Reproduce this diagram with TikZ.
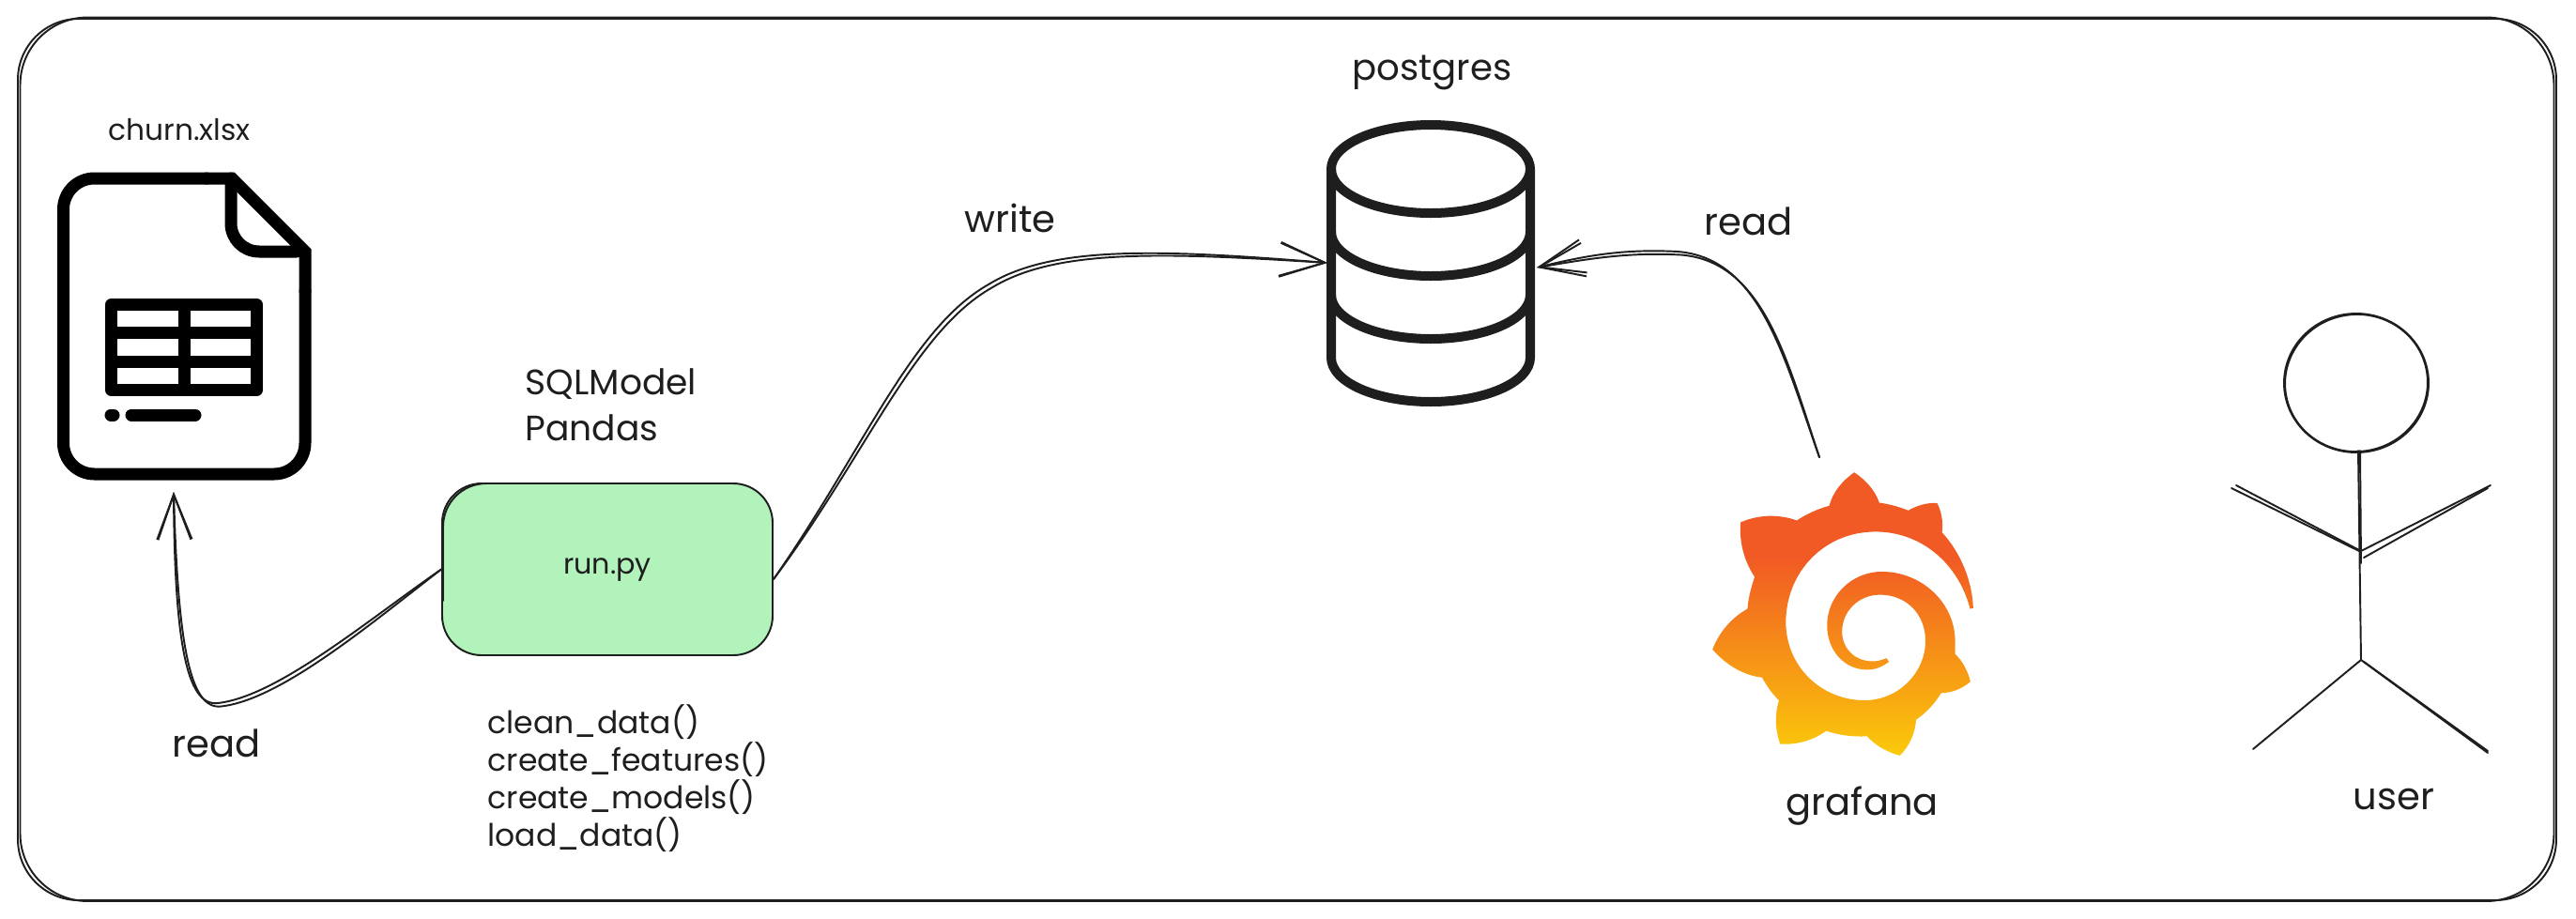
\documentclass[tikz,border=0pt]{standalone}
\usepackage{fontspec}
\setmainfont{Poppins}
\usetikzlibrary{arrows.meta}
\definecolor{inkcol}{HTML}{1E1E1E}
\definecolor{runcol}{HTML}{B2F2BB}
\definecolor{logotop}{HTML}{F15A24}
\definecolor{logobot}{HTML}{FBCA0A}
\pgfdeclareverticalshading{logoshade}{100bp}{color(0bp)=(logobot); color(25bp)=(logobot); color(60bp)=(logotop); color(100bp)=(logotop)}
\tikzset{
  sketch/.style = {draw = inkcol, line width = 0.55pt, line cap = round},
  flow/.style = {sketch, -{Straight Barb[length = 0.48cm, width = 0.36cm]}},
  iconline/.style = {draw = inkcol, line width = 0.1cm, line cap = round, line join = round},
  fileline/.style = {draw = black, line width = 0.13cm, line cap = round, line join = round},
  lbl/.style = {text = inkcol, inner sep = 0pt, anchor = base west, font = \fontsize{11.4}{14}\selectfont},
  smalllbl/.style = {lbl, font = \fontsize{8.9}{11}\selectfont},
  runbox/.style = {fill = runcol, draw = inkcol, line width = 0.55pt, rounded corners = 0.42cm,
    minimum width = 3.52cm, minimum height = 1.83cm, inner sep = 0pt, text = inkcol,
    font = \fontsize{8.6}{10}\selectfont}
}
\begin{document}
\begin{tikzpicture}[x = 1cm, y = -1cm]
        \useasboundingbox (0,0) rectangle (27.44,9.78);
        \fill [white] (0,0) rectangle (27.44,9.78);

        % outer frame
        \draw [sketch, rounded corners = 0.65cm] (0.19,0.2) rectangle (27.23,9.59);
        \draw [sketch, rounded corners = 0.72cm] (0.215,0.185) rectangle (27.205,9.6);

        % spreadsheet file
        \draw [fileline, rounded corners = 0.33cm] (2.2,1.9) -- (0.675,1.9) -- (0.675,5.05)
            -- (3.25,5.05) -- (3.25,3.1);
        \draw [fileline, line join = miter] (2.2,1.9) -- (2.47,1.9) -- (3.25,2.68) -- (3.25,3.1);
        \draw [fileline, rounded corners = 0.3cm] (2.46,1.9) -- (2.46,2.68) -- (3.16,2.68);
        \draw [fileline] (1.185,3.245) rectangle (2.735,4.155);
        \draw [fileline] (1.185,3.54) -- (2.735,3.54);
        \draw [fileline] (1.185,3.85) -- (2.735,3.85);
        \draw [fileline] (1.96,3.245) -- (1.96,4.155);
        \draw [fileline] (1.18,4.42) -- (1.21,4.42);
        \draw [fileline] (1.4,4.42) -- (2.08,4.42);

        % database
        \draw [iconline] (15.24,1.8) ellipse (1.06 and 0.47);
        \draw [iconline] (14.18,1.8) -- (14.18,3.81) arc (180:0:1.06 and 0.47) -- (16.3,1.8);
        \draw [iconline] (14.18,2.47) arc (180:0:1.06 and 0.47);
        \draw [iconline] (14.18,3.14) arc (180:0:1.06 and 0.47);

        % grafana logo
        \begin{scope}[shift = {(17.5,4.5)}, x = 0.003333cm, y = -0.003333cm]
            \shade [shading = logoshade]
            (677,160) .. controls (715,185) and (745,220) .. (757,257)
            .. controls (790,262) and (820,270) .. (850,282)
            .. controls (880,265) and (910,257) .. (942,258)
            .. controls (957,285) and (962,320) .. (958,352)
            .. controls (1020,420) and (1055,510) .. (1058,595)
            -- (1048,597)
            .. controls (1010,450) and (890,350) .. (745,350)
            .. controls (580,350) and (458,480) .. (458,640)
            .. controls (458,780) and (570,890) .. (710,890)
            .. controls (820,890) and (905,800) .. (905,700)
            .. controls (905,610) and (840,552) .. (760,552)
            .. controls (690,552) and (638,605) .. (638,670)
            .. controls (638,725) and (680,765) .. (735,765)
            .. controls (750,765) and (765,762) .. (780,755)
            -- (788,767)
            .. controls (765,783) and (745,792) .. (718,792)
            .. controls (645,792) and (590,730) .. (590,650)
            .. controls (590,555) and (670,478) .. (765,478)
            .. controls (895,478) and (1000,580) .. (1000,700)
            -- (1000,742)
            .. controls (1025,765) and (1042,800) .. (1049,830)
            .. controls (1020,855) and (990,865) .. (955,867)
            .. controls (935,900) and (908,930) .. (875,952)
            .. controls (872,995) and (855,1035) .. (823,1067)
            .. controls (780,1055) and (745,1035) .. (718,1005)
            .. controls (675,1008) and (630,1002) .. (587,988)
            .. controls (545,1018) and (495,1033) .. (440,1030)
            .. controls (423,985) and (422,935) .. (436,890)
            .. controls (415,870) and (397,845) .. (382,817)
            .. controls (320,810) and (265,775) .. (223,727)
            .. controls (245,670) and (285,625) .. (335,597)
            .. controls (338,560) and (347,528) .. (358,495)
            .. controls (325,445) and (308,385) .. (313,320)
            .. controls (370,295) and (435,293) .. (493,314)
            .. controls (525,293) and (560,277) .. (597,267)
            .. controls (608,225) and (635,190) .. (677,160) -- cycle;
        \end{scope}

        % user
        \draw [sketch] (25.1,4.08) ellipse (0.77 and 0.74);
        \draw [sketch, rotate around = {8:(25.1,4.08)}] (25.1,4.08) ellipse (0.76 and 0.73);
        \draw [sketch] (25.12,4.8) -- (25.15,7.03);
        \draw [sketch] (25.14,4.8) -- (25.15,6);
        \draw [sketch] (23.77,5.2) -- (25.13,5.87);
        \draw [sketch] (23.82,5.17) -- (25.13,5.86);
        \draw [sketch] (26.53,5.17) -- (25.15,5.87);
        \draw [sketch] (26.5,5.2) -- (25.18,5.94);
        \draw [sketch] (24,7.98) -- (25.15,7.03);
        \draw [sketch] (26.5,8.02) -- (25.15,7.03);
        \draw [sketch] (26.5,8) -- (25.18,7.05);

        % nodes
        \node [runbox] (runfile) at (6.47,6.065) {run.py};
        \draw [sketch, rounded corners = 0.46cm] (4.72,6.4) -- (4.72,5.15) -- (6.6,5.15);
        \coordinate (filetip) at (1.85,5.24);
        \coordinate (dbleft) at (14.14,2.8);
        \coordinate (dbright) at (16.37,2.85);
        \coordinate (logotip) at (19.38,4.87);
        \coordinate (runout) at (8.24,6.17);

        \node [smalllbl] (filename) at (1.15,1.49) {churn.xlsx};
        \node [lbl, font = \fontsize{10.7}{14}\selectfont, align = left, anchor = north west] (tools) at (5.59,3.92) {SQLModel\\Pandas};
        \node [lbl, font = \fontsize{9.4}{11.4}\selectfont, align = left, anchor = north west] (funcs) at (5.19,7.5)
            {clean\_data()\\create\_features()\\create\_models()\\load\_data()};
        \node [lbl] (readleft) at (1.83,8.06) {read};
        \node [lbl] (writetop) at (10.27,2.47) {write};
        \node [lbl] (readright) at (18.15,2.5) {read};
        \node [lbl, font = \fontsize{11}{14}\selectfont] (dbname) at (14.4,0.85) {postgres};
        \node [lbl] (logoname) at (19.02,8.68) {grafana};
        \node [lbl] (username) at (25.06,8.62) {user};

        % connectors
        \foreach \off in {0,0.035} {
            \draw [flow, shift = {(\off,\off)}] (runfile.west) .. controls (3.9,6.62) and (2.95,7.42) .. (2.32,7.49)
                .. controls (1.98,7.53) and (1.86,6.8) .. (filetip);
            \draw [flow, shift = {(\off,\off)}] (runout) .. controls (9.2,4.8) and (9.7,3.5) .. (10.53,3.03)
                .. controls (11.2,2.62) and (12.3,2.65) .. (dbleft);
            \draw [flow, shift = {(\off,\off)}] (logotip) .. controls (19,3.8) and (18.75,2.75) .. (17.87,2.68)
                .. controls (17.3,2.65) and (16.9,2.72) .. (dbright);
        }
    \end{tikzpicture}
\end{document}
